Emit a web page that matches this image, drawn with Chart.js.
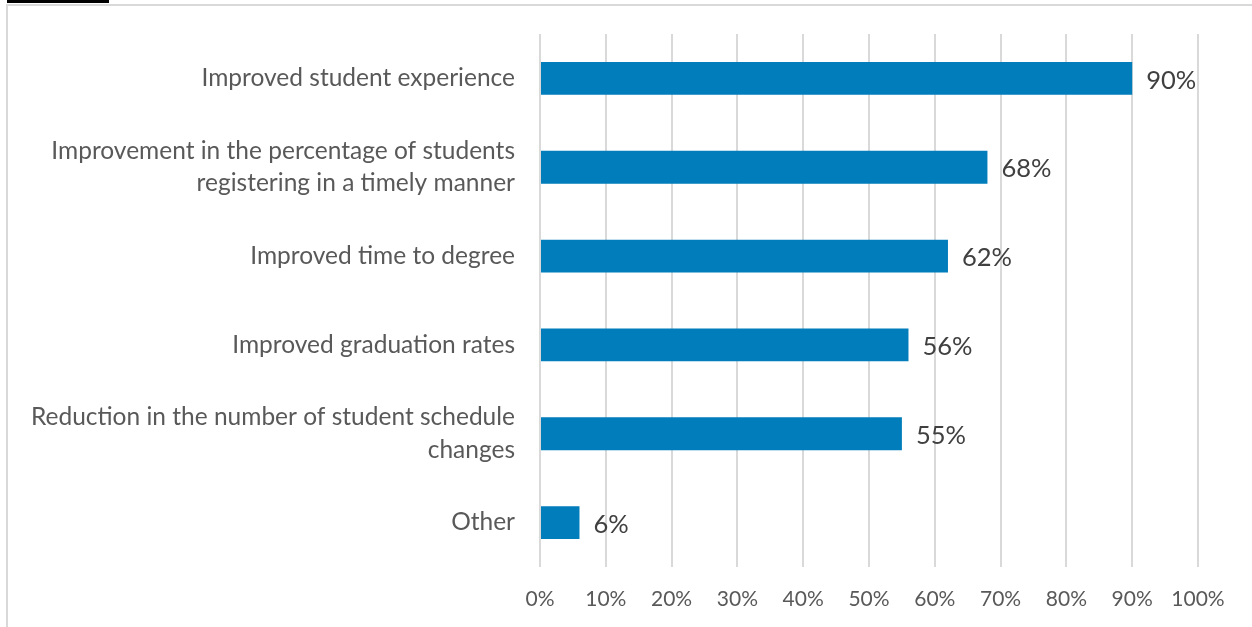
<!DOCTYPE html>
<html><head><meta charset="utf-8">
<script src="https://cdn.jsdelivr.net/npm/chart.js@4/dist/chart.umd.min.js"></script>
<style>
html,body{margin:0;padding:0;background:#fff;}
#wrap{position:relative;width:1252px;height:627px;overflow:hidden;}
#blk{position:absolute;left:7px;top:0;width:102px;height:3px;background:#000;}
#topb{position:absolute;left:6px;top:4px;width:1246px;height:2px;background:#d9d9d9;}
#leftb{position:absolute;left:6px;top:4px;width:2px;height:623px;background:#d9d9d9;}
canvas{position:absolute;left:0;top:0;}
</style></head>
<body><div id="wrap"><div id="blk"></div><div id="topb"></div><div id="leftb"></div><canvas id="c" width="1252" height="627"></canvas></div>
<script>
const categories = [
  ["Improved student experience"],
  ["Improvement in the percentage of students","registering in a timely manner"],
  ["Improved time to degree"],
  ["Improved graduation rates"],
  ["Reduction in the number of student schedule","changes"],
  ["Other"]
];
const values = [90, 68, 62, 56, 55, 6];
const xTicks = [0,10,20,30,40,50,60,70,80,90,100];

const FONT = "Lato, 'Open Sans', sans-serif";
const labelPlugin = {
  id:'dl',
  afterDatasetsDraw(chart){
    const ctx = chart.ctx;
    const meta = chart.getDatasetMeta(0);
    ctx.save();
    ctx.fillStyle = '#404040';
    ctx.font = '25.5px ' + FONT;
    ctx.textBaseline = 'middle';
    ctx.textAlign = 'left';
    meta.data.forEach((bar,i)=>{
      ctx.fillText(values[i] + '%', bar.x + 14, bar.y + 2);
    });
    ctx.restore();
  }
};
new Chart(document.getElementById('c'), {
  type:'bar',
  data:{labels:categories, datasets:[{data:values, backgroundColor:'#007dba', borderWidth:0, barPercentage:0.37, categoryPercentage:1}]},
  options:{
    indexAxis:'y', responsive:false, animation:false,
    layout:{padding:{top:34,right:54,left:0,bottom:0}},
    plugins:{legend:{display:false},tooltip:{enabled:false}},
    scales:{
      x:{min:0,max:100,
        afterBuildTicks(a){a.ticks = xTicks.map(v=>({value:v}));},
        afterFit(a){a.height = 60; a.paddingLeft = 0; a.paddingRight = 0;},
        grid:{color:'#d9d9d9',lineWidth:2,drawTicks:false},
        border:{display:false},
        ticks:{padding:20,color:'#595959',font:{family:FONT,size:21},callback:v=>v+'%'}
      },
      y:{
        afterFit(a){a.width = 540; a.paddingTop = 0; a.paddingBottom = 0;},
        grid:{display:false,drawTicks:false},
        border:{display:false},
        ticks:{padding:25,color:'#595959',font:{family:FONT,size:24.5,lineHeight:1.33}}
      }
    }
  },
  plugins:[labelPlugin]
});
</script></body></html>
